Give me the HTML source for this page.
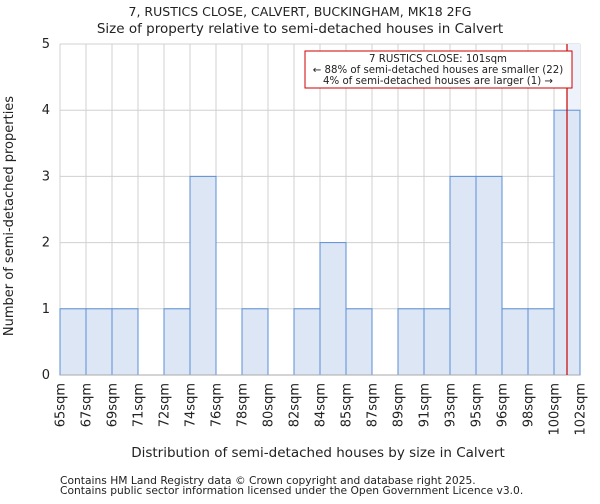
<!DOCTYPE html>
<html><head><meta charset="utf-8"><style>
body{margin:0;background:#fff;font-family:"DejaVu Sans","Liberation Sans",sans-serif;}
svg text{font-family:"DejaVu Sans","Liberation Sans",sans-serif;fill:#222;}
</style></head><body>
<svg id="chart" width="600" height="500" xmlns="http://www.w3.org/2000/svg">
<text x="300" y="16" font-size="12.5" text-anchor="middle">7, RUSTICS CLOSE, CALVERT, BUCKINGHAM, MK18 2FG</text>
<text x="300" y="33" font-size="13.5" text-anchor="middle">Size of property relative to semi-detached houses in Calvert</text>
<g id="grid"></g>
<g id="bars"></g>
<g id="axes"></g>
<text transform="translate(13,216) rotate(-90)" font-size="13" text-anchor="middle">Number of semi-detached properties</text>
<text x="318" y="457" font-size="13.5" text-anchor="middle">Distribution of semi-detached houses by size in Calvert</text>
<text x="60" y="484" font-size="10.7" fill="#444">Contains HM Land Registry data © Crown copyright and database right 2025.</text>
<text x="60" y="494" font-size="10.7" fill="#444">Contains public sector information licensed under the Open Government Licence v3.0.</text>
</svg>
<script>
const binLabels=["65sqm","67sqm","69sqm","71sqm","72sqm","74sqm","76sqm","78sqm","80sqm","82sqm","84sqm","85sqm","87sqm","89sqm","91sqm","93sqm","95sqm","96sqm","98sqm","100sqm","102sqm"];
const counts=[1,1,1,0,1,3,0,1,0,1,2,1,0,1,1,3,3,1,1,4];
const yTicks=[0,1,2,3,4,5];
const markerBin=19.5;
const NS="http://www.w3.org/2000/svg";
const X0=60,X1=580,Y0=375,Y1=44,YMAX=5;
const bw=(X1-X0)/counts.length;
const xs=i=>X0+i*bw;
const ys=v=>Y0-(v/YMAX)*(Y0-Y1);
function mk(tag,attrs,parent){const e=document.createElementNS(NS,tag);for(const k in attrs)e.setAttribute(k,attrs[k]);parent.appendChild(e);return e;}
const grid=document.getElementById('grid'),bars=document.getElementById('bars'),axes=document.getElementById('axes');
for(let i=0;i<binLabels.length;i++){const l=mk('line',{x1:xs(i),x2:xs(i),y1:Y1,y2:Y0,stroke:'#d0d0d0','stroke-width':1},grid);

}
yTicks.forEach(t=>{const l=mk('line',{x1:X0,x2:X1,y1:ys(t),y2:ys(t),stroke:'#d0d0d0','stroke-width':1},grid);


const tx=mk('text',{x:X0-10,y:ys(t)+4,'font-size':13,'text-anchor':'end'},axes);tx.textContent=t;

});
const shade=mk('rect',{x:xs(markerBin),y:Y1,width:X1-xs(markerBin),height:Y0-Y1,fill:'#eef2fb'},grid);


counts.forEach((c,i)=>{if(c<=0)return;const r=mk('rect',{x:xs(i),y:ys(c),width:bw,height:Y0-ys(c),fill:'#dce6f5',stroke:'#5b8fd6','stroke-width':1},bars);

});
const ax=mk('line',{x1:X0,x2:X1,y1:Y0,y2:Y0,stroke:'#aaa','stroke-width':1},axes);


binLabels.forEach((lab,i)=>{const t=mk('text',{transform:`translate(${xs(i)+4.5},${Y0+8}) rotate(-90)`,'font-size':13,'text-anchor':'end'},axes);t.textContent=lab;

});
const ml=mk('line',{x1:xs(markerBin),x2:xs(markerBin),y1:Y1,y2:Y0,stroke:'#cc0000','stroke-width':1.2},axes);


const g=mk('g',{},axes);


mk('rect',{x:305,y:51,width:267,height:37,fill:'#fff',stroke:'#cc0000','stroke-width':1},g);
[["7 RUSTICS CLOSE: 101sqm",62],["← 88% of semi-detached houses are smaller (22)",73],["4% of semi-detached houses are larger (1) →",84]].forEach(([s,y])=>{const t=mk('text',{x:438,y:y,'font-size':10.2,'text-anchor':'middle'},g);t.textContent=s;

});
</script>
</body></html>
